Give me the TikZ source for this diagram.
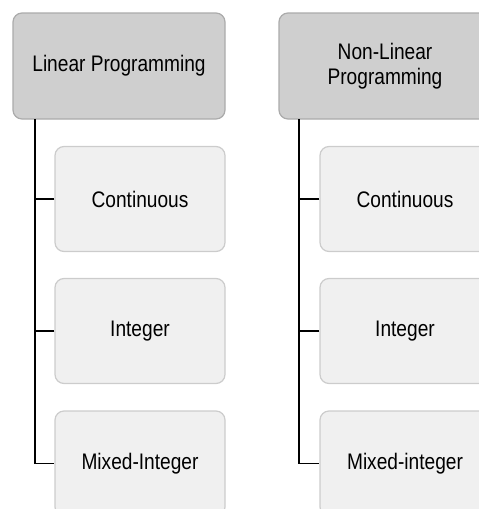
\documentclass[tikz,border=0pt]{standalone}
\usepackage{fontspec}
\setmainfont[FakeStretch=0.85]{Liberation Sans}
\begin{document}
\begin{tikzpicture}[x=1pt,y=-1pt,
  head/.style={draw=black!33, fill=black!19, line width=1.2pt, rounded corners=9pt,
    minimum width=212pt, minimum height=106pt, align=center, text=black,
    font=\fontsize{22.5}{25}\selectfont},
  leaf/.style={draw=black!20, fill=black!6, line width=1.2pt, rounded corners=9pt,
    minimum width=170pt, minimum height=105pt, align=center, text=black,
    font=\fontsize{22.5}{25}\selectfont},
  link/.style={draw=black, line width=1.3pt}]
\useasboundingbox (0,0) rectangle (479,509);
\clip (0,0) rectangle (479,509);

% first column
\node[head] (h1) at (119,66) {Linear Programming};
\node[leaf] (a1) at (140,199) {Continuous};
\node[leaf] (a2) at (140,331) {Integer};
\node[leaf] (a3) at (140,463.5) {Mixed-Integer};
\coordinate (s1) at (35,119);

% second column
\node[head] (h2) at (385,66) {Non-Linear\\Programming};
\node[leaf] (b1) at (405,199) {Continuous};
\node[leaf] (b2) at (405,331) {Integer};
\node[leaf] (b3) at (405,463.5) {Mixed-integer};
\coordinate (s2) at (299,119);

% connectors
\draw[link] (s1) |- (a3.west);
\draw[link] (a1.west) -- (a1.west -| s1);
\draw[link] (a2.west) -- (a2.west -| s1);
\draw[link] (s2) |- (b3.west);
\draw[link] (b1.west) -- (b1.west -| s2);
\draw[link] (b2.west) -- (b2.west -| s2);
\end{tikzpicture}
\end{document}
